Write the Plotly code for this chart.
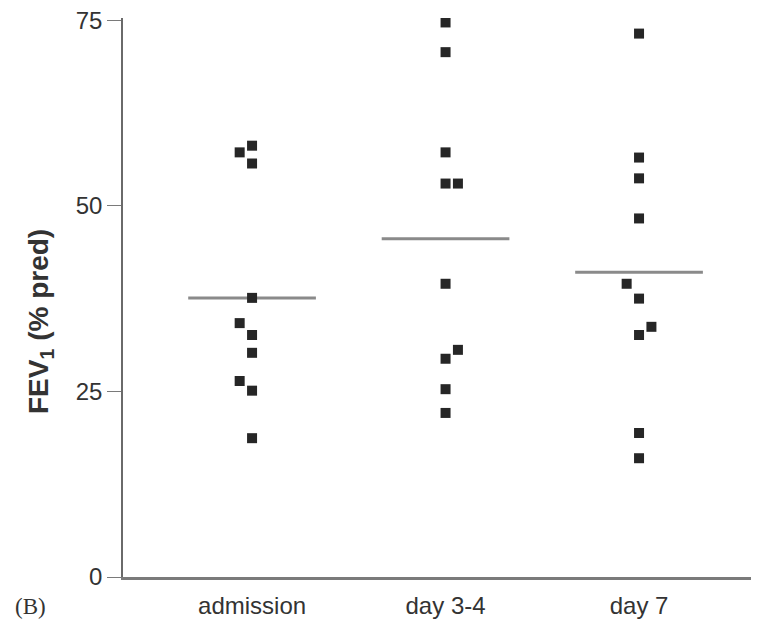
import plotly.graph_objects as go
import numpy as np

categories = ["admission", "day 3-4", "day 7"]
admission = [58.1, 57.2, 55.7, 37.6, 34.2, 32.6, 30.2, 26.4, 25.1, 18.7]
day34 = [74.7, 70.7, 57.2, 53.0, 53.0, 39.5, 30.6, 29.4, 25.3, 22.1]
day7 = [73.2, 56.5, 53.7, 48.3, 39.5, 37.5, 33.7, 32.6, 19.4, 16.0]
# side-by-side offsets for overlapping points (-1 left, 0 centre, +1 right)
admission_side = [0, -1, 0, 0, -1, 0, 0, -1, 0, 0]
day34_side = [0, 0, 0, 0, 1, 0, 1, 0, 0, 0]
day7_side = [0, 0, 0, 0, -1, 0, 1, 0, 0, 0]
y_ticks = [0, 25, 50, 75]

series = [admission, day34, day7]
sides = [admission_side, day34_side, day7_side]
step = 0.064
half = 0.33

fig = go.Figure()
for i, vals in enumerate(series):
    m = float(np.mean(vals))
    fig.add_trace(go.Scatter(x=[i - half, i + half], y=[m, m], mode="lines",
                             line=dict(color="#8a8a8a", width=3), hoverinfo="skip",
                             showlegend=False))
for i, (vals, sd) in enumerate(zip(series, sides)):
    fig.add_trace(go.Scatter(x=[i + s * step for s in sd], y=vals, mode="markers",
                             marker=dict(symbol="square", size=10, color="#262626",
                                         line=dict(width=0)),
                             showlegend=False))

font_tick = "Liberation Sans, Arial, sans-serif"
fig.update_layout(
    width=751, height=632,
    margin=dict(l=115, r=0, t=10, b=63),
    paper_bgcolor="white", plot_bgcolor="white",
    xaxis=dict(range=[-0.667, 2.62], tickvals=[0, 1, 2], ticktext=categories,
               showgrid=False, zeroline=False, showline=True, linecolor="#7a7a7a",
               linewidth=3, ticks="", ticklabelstandoff=5,
               tickfont=dict(family=font_tick, size=24, color="#333")),
    yaxis=dict(range=[0, 75.3], tickvals=y_ticks, showgrid=False, zeroline=False,
               showline=True, linecolor="#6a6a6a", linewidth=1.5, ticks="outside",
               ticklen=14, tickwidth=1.2, tickcolor="#7a7a7a", ticklabeloverflow="allow",
               tickfont=dict(family=font_tick, size=24, color="#333")),
)
# y-axis title (placed like the reference, a little below the axis centre)
fig.add_annotation(text="FEV<sub>1</sub> (% pred)", xref="paper", yref="paper", showarrow=False,
                   x=(40 - 123) / 636, y=(577 - 322) / 559, textangle=-90,
                   xanchor="center", yanchor="middle",
                   font=dict(family="Liberation Sans, Arial, sans-serif", size=28,
                             color="#333", weight="bold"))
fig.add_annotation(text="(B)", xref="paper", yref="paper", showarrow=False,
                   x=(30 - 123) / 636, y=(577 - 606) / 559,
                   xanchor="center", yanchor="middle",
                   font=dict(family="Liberation Serif, Times New Roman, serif", size=23, color="#333"))
fig.write_html("out.html")
